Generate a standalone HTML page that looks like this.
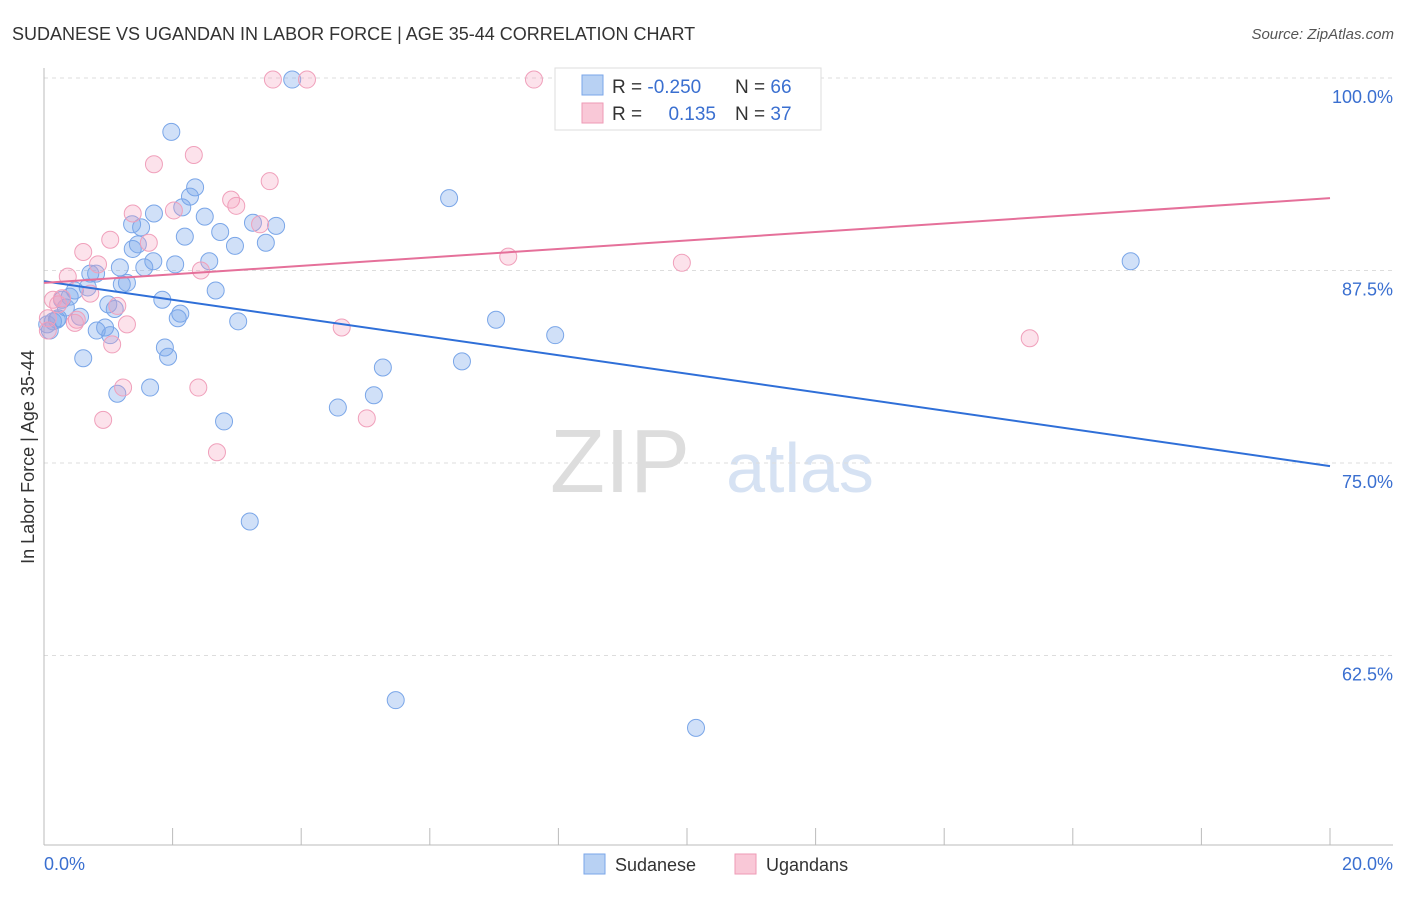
<!DOCTYPE html>
<html><head><meta charset="utf-8"><style>
body{margin:0;background:#fff;font-family:"Liberation Sans",sans-serif;}
svg text{font-family:"Liberation Sans",sans-serif;}
</style></head><body>
<svg id="c" width="1406" height="892" xmlns="http://www.w3.org/2000/svg">
<text x="12" y="40" font-size="18" fill="#333">SUDANESE VS UGANDAN IN LABOR FORCE | AGE 35-44 CORRELATION CHART</text>
<text x="1394" y="39" font-size="15" fill="#555" font-style="italic" text-anchor="end">Source: ZipAtlas.com</text>
<text x="620" y="492" font-size="90" fill="#ddd" font-family="Liberation Serif" text-anchor="middle">ZIP</text>
<text x="800" y="492" font-size="70" fill="#d6e2f3" text-anchor="middle">atlas</text>
<g id="grid"></g><g id="axes"></g><g id="pts"></g><g id="lines"></g>
<text transform="translate(34,457) rotate(-90)" font-size="18" fill="#333" text-anchor="middle">In Labor Force | Age 35-44</text>
<text x="44" y="870" font-size="18" fill="#3a6fd0">0.0%</text>
<text x="1393" y="870" font-size="18" fill="#3a6fd0" text-anchor="end">20.0%</text>
<g>
<rect x="555" y="68" width="266" height="62" fill="#fff" stroke="#ddd"/>
<rect x="582" y="75" width="21" height="20" fill="#b8d1f3" stroke="#7aa6e8"/>
<rect x="582" y="103" width="21" height="20" fill="#f9c8d7" stroke="#ee9ab5"/>
<text x="612" y="93" font-size="19" fill="#333">R = <tspan fill="#3a6fd0">-0.250</tspan></text>
<text x="735" y="93" font-size="19" fill="#333">N = <tspan fill="#3a6fd0">66</tspan></text>
<text x="612" y="120" font-size="19" fill="#333">R = </text>
<text x="716" y="120" font-size="19" fill="#3a6fd0" text-anchor="end">0.135</text>
<text x="735" y="120" font-size="19" fill="#333">N = <tspan fill="#3a6fd0">37</tspan></text>
</g>
<g>
<rect x="584" y="854" width="21" height="20" fill="#b8d1f3" stroke="#7aa6e8"/>
<text x="615" y="871" font-size="18" fill="#333">Sudanese</text>
<rect x="735" y="854" width="21" height="20" fill="#f9c8d7" stroke="#ee9ab5"/>
<text x="766" y="871" font-size="18" fill="#333">Ugandans</text>
</g>
</svg>
<script>
const yTicks=[100,87.5,75,62.5];
const yTickLabels=["100.0%","87.5%","75.0%","62.5%"];
const xTicks=[0,2,4,6,8,10,12,14,16,18,20];
const sudX=[1.98,2.35,2.27,1.71,2.15,2.50,1.37,1.51,2.74,2.19,3.25,3.61,2.97,3.45,1.38,1.46,1.70,2.04,1.18,1.56,0.81,0.72,2.57,1.21,1.29,0.68,0.48,0.40,0.28,0.34,2.67,1.84,1.00,1.10,2.12,2.08,3.02,0.56,0.20,0.14,0.09,0.82,0.95,1.03,1.88,1.93,0.61,1.65,1.14,2.80,3.20,6.30,16.9,7.03,7.95,6.50,5.27,5.13,4.57,5.47,10.14,3.86,0.05,0.22];
const sudY=[96.5,92.9,92.3,91.2,91.6,91.0,90.5,90.3,90.0,89.7,90.6,90.4,89.1,89.3,88.9,89.2,88.1,87.9,87.7,87.7,87.3,87.3,88.1,86.6,86.7,86.4,86.2,85.8,85.6,85.1,86.2,85.6,85.3,85.0,84.7,84.4,84.2,84.5,84.3,84.2,83.6,83.6,83.8,83.3,82.5,81.9,81.8,79.9,79.5,77.7,71.2,92.2,88.1,84.3,83.3,81.6,81.2,79.4,78.6,59.6,57.8,99.9,84.0,84.4];
const ugX=[3.56,4.09,7.62,1.71,2.33,2.91,2.99,3.51,2.02,1.38,1.03,3.36,1.63,0.61,0.84,0.37,2.44,0.72,0.14,1.14,0.22,0.06,0.51,0.48,1.29,1.06,4.63,1.23,2.40,0.92,2.69,5.02,7.22,9.92,15.33,0.06,0.28];
const ugY=[99.9,99.9,99.9,94.4,95.0,92.1,91.7,93.3,91.4,91.2,89.5,90.5,89.3,88.7,87.9,87.1,87.5,86.0,85.6,85.2,85.3,84.4,84.3,84.1,84.0,82.7,83.8,79.9,79.9,77.8,75.7,77.9,88.4,88.0,83.1,83.6,85.7];
const sudTrend=[86.8,74.8];
const ugTrend=[86.7,92.2];
const NS="http://www.w3.org/2000/svg";
const sx=v=>44+v/20*1286;
const sy=v=>78+(100-v)/12.5*192.5;
function mk(t,a,p){const e=document.createElementNS(NS,t);for(const k in a)e.setAttribute(k,a[k]);document.getElementById(p).appendChild(e);return e;}
yTicks.forEach((t,i)=>{
 const l=mk('line',{x1:44,x2:1393,y1:sy(t),y2:sy(t),stroke:'#ddd','stroke-dasharray':'4,4'},'grid');
 
 
 const tx=mk('text',{x:1393,y:sy(t)+25,'font-size':18,fill:'#3a6fd0','text-anchor':'end'},'grid');
 tx.textContent=yTickLabels[i];
 
 
});
const ax=mk('line',{x1:44,x2:44,y1:68,y2:845,stroke:'#bbb'},'axes');


const bx=mk('line',{x1:44,x2:1393,y1:845,y2:845,stroke:'#bbb'},'axes');


xTicks.forEach(t=>{
 const l=mk('line',{x1:sx(t),x2:sx(t),y1:828,y2:845,stroke:'#bbb'},'axes');
 
 
});
function pts(X,Y,fill,stroke,name){X.forEach((x,i)=>{
 const c=mk('circle',{cx:sx(x),cy:sy(Y[i]),r:8.5,fill:fill,stroke:stroke,'stroke-width':1},'pts');
 
 
});}
pts(sudX,sudY,'rgba(120,165,235,0.35)','#7aa6e8','sudanese-point');
pts(ugX,ugY,'rgba(245,160,190,0.3)','#f0a0bb','ugandan-point');
const l1=mk('line',{x1:sx(0),y1:sy(sudTrend[0]),x2:sx(20),y2:sy(sudTrend[1]),stroke:'#2f6fd8','stroke-width':2},'lines');


const l2=mk('line',{x1:sx(0),y1:sy(ugTrend[0]),x2:sx(20),y2:sy(ugTrend[1]),stroke:'#e5709a','stroke-width':2},'lines');


</script>
</body></html>
